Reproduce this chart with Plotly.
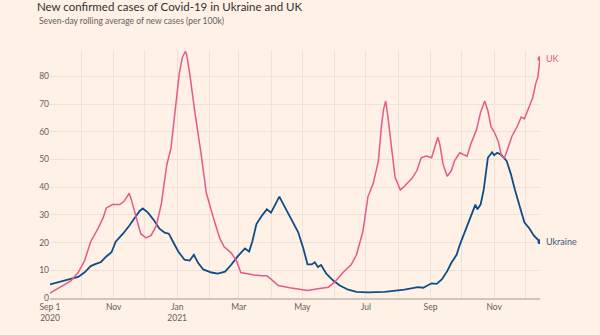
import pandas as pd
import plotly.graph_objects as go

START = pd.Timestamp("2020-09-01")

# Days since 1 Sep 2020 and seven-day average new cases per 100k
uk_day = [0, 11, 20, 27, 33, 39, 46, 51, 54, 60, 67, 71, 76, 78, 83, 87, 92, 97, 102, 107,
          109, 112, 116, 119, 124, 127, 130, 131, 134, 139, 142, 145, 150, 155, 158, 163, 167,
          174, 179, 183, 190, 196, 203, 208, 212, 219, 230, 238, 247, 257, 267, 273, 281, 289,
          294, 300, 305, 310, 315, 318, 320, 322, 324, 328, 331, 336, 340, 347, 352, 356, 361,
          366, 369, 372, 374, 377, 381, 385, 388, 393, 400, 404, 409, 413, 417, 420, 423, 426,
          430, 433, 436, 440, 443, 448, 452, 455, 459, 463, 466, 468, 470]
uk_val = [1.8, 4.1, 6.2, 9.2, 13.3, 20.3, 25.0, 29.0, 32.5, 33.7, 33.7, 34.9, 37.8, 35.5, 28.5,
          23.2, 21.7, 22.6, 26.1, 34.3, 40.0, 48.0, 54.0, 63.5, 81.0, 86.9, 89.0, 88.0, 81.0,
          67.0, 60.0, 51.8, 37.8, 30.8, 27.3, 21.4, 18.5, 16.2, 13.3, 9.2, 8.6, 8.3, 8.0, 8.0,
          6.8, 4.5, 3.7, 3.3, 2.7, 3.3, 3.9, 5.7, 9.2, 12.1, 15.6, 23.8, 36.6, 41.3, 49.5, 62.3,
          68.2, 71.1, 65.8, 53.0, 43.6, 39.0, 40.3, 43.1, 46.0, 50.6, 51.2, 50.6, 54.2, 58.0,
          55.3, 48.3, 43.9, 46.0, 49.5, 52.4, 51.2, 55.9, 60.6, 67.0, 71.1, 67.6, 61.8, 60.0,
          56.5, 51.2, 50.6, 55.3, 58.3, 61.8, 65.3, 64.7, 68.2, 72.3, 77.5, 79.8, 86.3]

ua_day = [0, 11, 19, 27, 33, 39, 44, 49, 54, 59, 63, 70, 76, 81, 86, 89, 94, 100, 105, 110,
          114, 118, 123, 129, 134, 138, 142, 147, 155, 161, 168, 174, 180, 187, 191, 194, 198,
          203, 208, 212, 216, 220, 224, 228, 233, 238, 243, 247, 251, 254, 257, 260, 265, 272,
          278, 286, 294, 305, 321, 334, 340, 353, 358, 366, 371, 376, 381, 385, 390, 393, 398,
          403, 408, 410, 413, 416, 418, 420, 424, 426, 429, 433, 438, 442, 446, 451, 455, 460,
          464, 470]
ua_val = [4.9, 6.0, 6.8, 7.6, 9.2, 11.5, 12.3, 13.0, 15.0, 16.5, 20.3, 23.2, 26.1, 29.0, 31.4,
          32.3, 30.8, 27.9, 25.0, 23.6, 23.2, 20.3, 16.8, 13.8, 13.5, 15.6, 12.7, 10.3, 9.2, 8.8,
          9.5, 12.1, 15.0, 17.9, 16.8, 20.3, 26.7, 29.6, 32.0, 30.8, 33.7, 36.6, 33.7, 30.8,
          27.3, 23.8, 17.9, 12.1, 12.1, 12.9, 11.2, 11.9, 8.8, 6.2, 4.5, 3.0, 2.2, 2.0, 2.2, 2.7,
          3.0, 3.9, 3.7, 5.3, 5.1, 6.8, 9.7, 12.7, 15.6, 19.1, 23.8, 28.5, 33.7, 32.0, 33.7,
          39.0, 46.0, 50.6, 52.6, 51.5, 52.4, 51.6, 49.5, 44.8, 39.0, 32.0, 27.3, 25.0, 22.6,
          20.3]

grid_months = pd.date_range("2020-09-01", "2021-12-01", freq="MS")
tick_text = ["Sep 1<br>2020", "", "Nov", "", "Jan<br>2021", "", "Mar", "", "May", "",
             "Jul", "", "Sep", "", "Nov", ""]
y_ticks = [0, 10, 20, 30, 40, 50, 60, 70, 80]

UK_COL = "#e65a8b"
UA_COL = "#0f4c8a"
BG = "#fff1e5"
GRID = "#ede2d8"
TXT = "#66605c"
FONT = "Lato"

uk_dates = START + pd.to_timedelta(uk_day, unit="D")
ua_dates = START + pd.to_timedelta(ua_day, unit="D")

fig = go.Figure()
fig.add_trace(go.Scatter(x=ua_dates, y=ua_val, mode="lines", name="Ukraine",
                         line=dict(color=UA_COL, width=1.8), hoverinfo="skip"))
fig.add_trace(go.Scatter(x=uk_dates, y=uk_val, mode="lines", name="UK",
                         line=dict(color=UK_COL, width=1.5), hoverinfo="skip"))
fig.add_trace(go.Scatter(x=[ua_dates[-1]], y=[ua_val[-1]], mode="markers",
                         marker=dict(color=UA_COL, size=5), hoverinfo="skip"))
fig.add_trace(go.Scatter(x=[uk_dates[-1]], y=[uk_val[-1]], mode="markers",
                         marker=dict(color=UK_COL, size=5), hoverinfo="skip"))

fig.add_annotation(x=uk_dates[-1], y=uk_val[-1], text="UK", showarrow=False,
                   xanchor="left", yanchor="middle", xshift=4,
                   font=dict(family=FONT, size=9, color=UK_COL))
fig.add_annotation(x=ua_dates[-1], y=ua_val[-1], text="Ukraine", showarrow=False,
                   xanchor="left", yanchor="middle", xshift=4,
                   font=dict(family=FONT, size=9, color="#3a5a80"))

fig.update_layout(
    width=600, height=335,
    margin=dict(l=50, r=60, t=50, b=30),
    paper_bgcolor=BG, plot_bgcolor=BG,
    showlegend=False,
    font=dict(family=FONT, size=9, color=TXT),
    title=dict(text="New confirmed cases of Covid-19 in Ukraine and UK",
               xref="container", yref="container", x=37/600, xanchor="left",
               y=1 - 6.5/335, yanchor="middle",
               font=dict(family=FONT, size=11.5, color="#33302e")),
)
fig.add_annotation(text="Seven-day rolling average of new cases (per 100k)",
                   xref="paper", yref="paper", x=-13/490, y=1 + 30/255,
                   xanchor="left", yanchor="middle", showarrow=False,
                   font=dict(family=FONT, size=8.5, color=TXT))

fig.update_xaxes(
    range=[START, START + pd.Timedelta(days=470)],
    tickvals=grid_months, ticktext=tick_text,
    showgrid=True, gridcolor=GRID, gridwidth=1,
    showline=True, linecolor="#cfc5bd", linewidth=2,
    ticks="", tickfont=dict(family=FONT, size=8.5, color=TXT),
    zeroline=False, fixedrange=True,
)
fig.update_yaxes(
    range=[0, 89.5],
    tickvals=y_ticks,
    showgrid=True, gridcolor=GRID, gridwidth=1,
    zeroline=False, showline=False, ticks="",
    tickfont=dict(family=FONT, size=8.5, color=TXT),
    fixedrange=True,
)

fig.write_html("out.html")
